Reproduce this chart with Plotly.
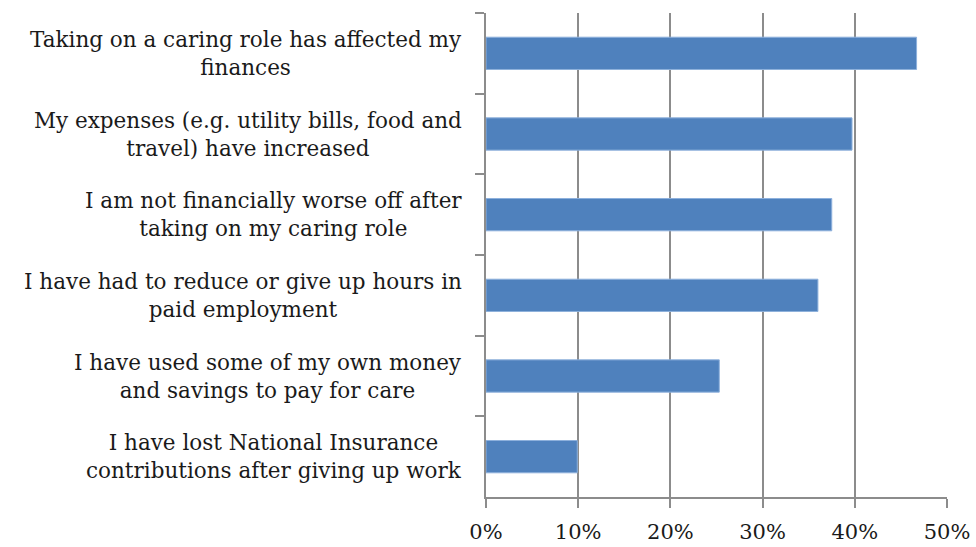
import plotly.graph_objects as go

# Survey statements (line breaks as they wrap on the chart) and share of respondents
statements = [
    "Taking on a caring role has affected my<br>finances",
    "My expenses (e.g. utility bills, food and<br>travel) have increased",
    "I am not financially worse off after<br>taking on my caring role",
    "I have had to reduce or give up hours in<br>paid employment",
    "I have used some of my own money<br>and savings to pay for care",
    "I have lost National Insurance<br>contributions after giving up work",
]
shares = [0.467, 0.397, 0.375, 0.360, 0.253, 0.099]
tick_vals = [0, 0.1, 0.2, 0.3, 0.4, 0.5]
tick_text = ["0%", "10%", "20%", "30%", "40%", "50%"]

FONT = "DejaVu Serif"
GRID = "#8c8c8c"

fig = go.Figure(
    go.Bar(
        x=shares,
        y=statements,
        orientation="h",
        width=0.4,
        marker=dict(color="#4F81BD", line=dict(color="#8DB0DC", width=1)),
        hoverinfo="x+y",
    )
)

# Statement labels: right-aligned block, lines centred within each label
for s in statements:
    fig.add_annotation(
        x=0, xref="paper", y=s, yref="y",
        text=s, showarrow=False,
        xanchor="right", yanchor="middle", align="center",
        xshift=-22,
        font=dict(family=FONT, size=21.5, color="#1a1a1a"),
    )

fig.update_xaxes(
    range=[0, 0.5],
    tickvals=tick_vals,
    ticktext=tick_text,
    showgrid=True, gridcolor=GRID, gridwidth=1.5,
    showline=True, linecolor=GRID, linewidth=1.5,
    ticks="outside", ticklen=9, tickcolor=GRID, tickwidth=1.5,
    ticklabelstandoff=6,
    tickfont=dict(family=FONT, size=21, color="#1a1a1a"),
    zeroline=False,
    automargin=False,
    fixedrange=True,
)
fig.update_yaxes(
    categoryorder="array", categoryarray=statements,
    autorange="reversed",
    showticklabels=False,
    showline=True, linecolor=GRID, linewidth=1.5,
    ticks="outside", ticklen=9, tickcolor=GRID, tickwidth=1.5,
    tickson="boundaries",
    showgrid=False,
    automargin=False,
    fixedrange=True,
)

fig.update_layout(
    width=976, height=547,
    margin=dict(l=486, r=29, t=13, b=50),
    paper_bgcolor="white", plot_bgcolor="white",
    showlegend=False,
    bargap=0.6,
)

fig.write_html("out.html")
